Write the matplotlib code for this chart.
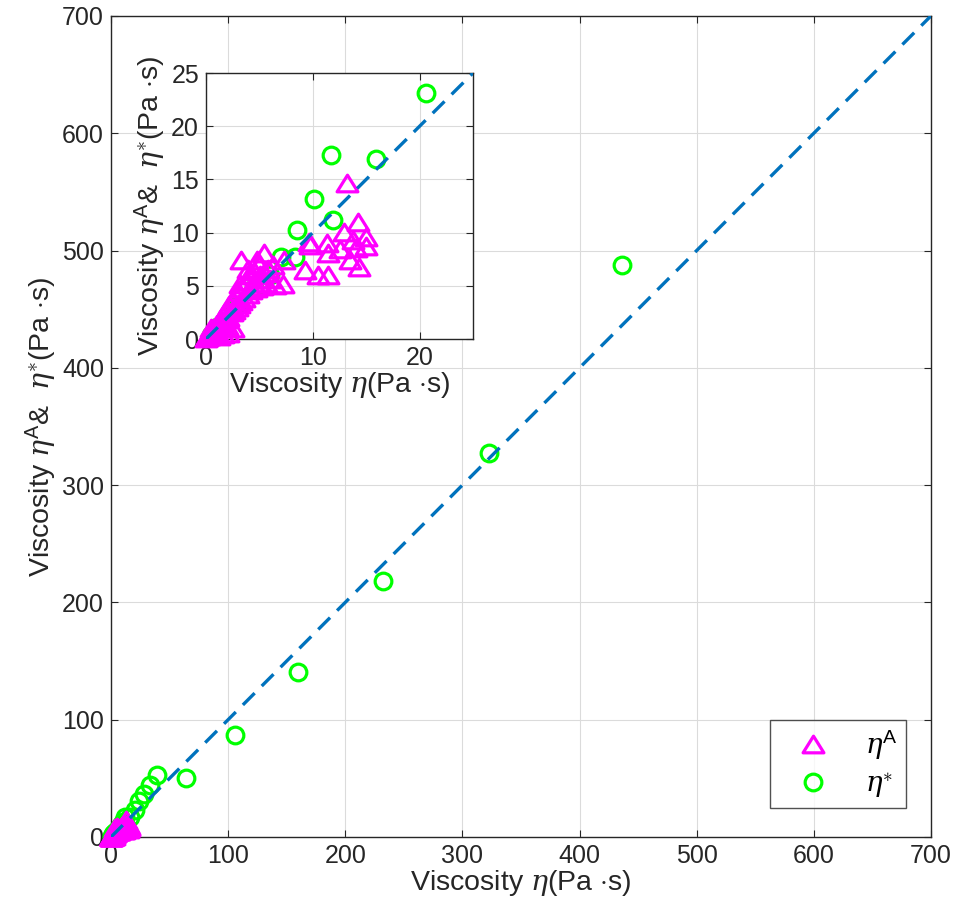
import numpy as np
import matplotlib.pyplot as plt
from matplotlib.path import Path
from matplotlib.lines import Line2D

plt.rcParams['font.family'] = ['Liberation Sans', 'DejaVu Sans']
plt.rcParams['mathtext.fontset'] = 'custom'
plt.rcParams['mathtext.rm'] = 'Liberation Sans'
plt.rcParams['mathtext.it'] = 'DejaVu Serif:italic'
plt.rcParams['mathtext.bf'] = 'Liberation Sans:bold'

# eta^A vs eta (triangles)
tri_x = [0.0, 0.1, 0.2, 0.3, 0.4, 0.5, 0.5, 0.6, 0.7, 0.8, 0.9, 1.0, 1.0, 1.1, 1.2, 1.2,
         1.3, 1.4, 1.5, 1.6, 1.6, 1.7, 1.8, 1.9, 2.0, 2.0, 2.1, 2.1, 2.2, 2.4, 2.5, 2.5,
         2.6, 2.8, 2.9, 3.0, 3.1, 3.2, 3.3, 3.3, 3.5, 3.6, 3.8, 3.9, 3.97, 4.0, 4.2,
         4.4, 4.5, 4.7, 4.75, 4.9, 5.0, 5.1, 5.2, 5.4, 5.4, 5.6, 5.8, 6.0, 6.3, 6.5,
         7.25, 7.3, 9.3, 9.6, 9.75, 10.5, 11.3, 11.45, 11.45, 12.5, 12.9, 13.2, 13.5,
         13.8, 14.0, 14.2, 14.3, 15.0, 15.0]
tri_y = [0.1, 0.2, 0.4, 0.3, 0.6, 0.5, 1.0, 0.9, 0.6, 1.1, 0.8, 1.4, 0.6, 1.0, 1.6, 0.3,
         1.2, 1.9, 1.5, 2.2, 0.5, 1.6, 2.5, 1.9, 2.8, 1.2, 2.1, 0.6, 3.2, 2.5, 3.6, 1.0,
         2.7, 4.0, 3.0, 4.5, 3.3, 5.2, 3.6, 7.4, 4.8, 3.9, 5.5, 4.2, 6.6, 6.0, 4.6,
         5.3, 6.4, 4.8, 7.4, 5.6, 7.0, 6.0, 5.0, 6.2, 8.1, 5.3, 6.6, 5.6, 7.0, 5.1,
         5.2, 7.4, 6.5, 9.1, 8.8, 6.0, 9.0, 8.05, 6.0, 8.5, 10.1, 14.7, 7.4,
         9.3, 8.6, 11.0, 6.8, 9.6, 8.7]

# eta* vs eta (circles)
circ_x = [0.5, 1.0, 2.0, 3.0, 4.5, 6.0, 7.0, 8.3, 8.5, 10.1, 11.7, 11.9, 15.9, 20.6,
          24, 28, 33, 39, 64, 106, 160, 232, 323, 436]
circ_y = [0.4, 1.1, 2.2, 3.2, 4.8, 6.0, 7.7, 7.7, 10.2, 13.2, 17.3, 11.2, 16.9, 23.1,
          31, 37, 44, 53, 50, 87, 141, 218, 327, 488]

magenta = (1, 0, 1)
green = (0, 1, 0)
blue = (0, 0.447, 0.741)
axcol = (0.15, 0.15, 0.15)

tri = Path([(-1, -0.8), (1, -0.8), (0, 0.8), (-1, -0.8)],
           [Path.MOVETO, Path.LINETO, Path.LINETO, Path.CLOSEPOLY])

xlab = r'Viscosity $\eta$(Pa $\cdot$s)'
ylab = r'Viscosity $\eta^{\mathrm{A}}$& $\;\eta^{\ast}$(Pa $\cdot$s)'


def style(ax, fs_tick, fs_lab):
    ax.grid(True, color=(0.86, 0.86, 0.86), lw=0.8)
    ax.set_axisbelow(True)
    ax.tick_params(direction='in', top=True, right=True, labelsize=fs_tick,
                   colors=axcol, length=5, width=0.8, pad=5)
    for s in ax.spines.values():
        s.set_color(axcol)
        s.set_linewidth(1.0)
    ax.set_xlabel(xlab, fontsize=fs_lab, color=axcol, labelpad=0)
    ax.set_ylabel(ylab, fontsize=fs_lab, color=axcol, labelpad=2)


def inside(xs, ys, lim):
    pts = [(x, y) for x, y in zip(xs, ys) if x <= lim * 1.02 and y <= lim * 1.02]
    return [p[0] for p in pts], [p[1] for p in pts]


def draw(ax, lim):
    cx, cy = inside(circ_x, circ_y, lim)
    tx, ty = inside(tri_x, tri_y, lim)
    ax.plot(cx, cy, 'o', ls='none', mfc='none', mec=green, ms=12, mew=2.3,
            clip_on=False, zorder=3)
    ax.plot(tx, ty, marker=tri, ls='none', mfc='none', mec=magenta, ms=15, mew=2.3,
            clip_on=False, zorder=4)
    ax.plot([0, lim], [0, lim], color=blue, lw=2.4, ls=(0, (5, 3)), zorder=5)
    ax.set_xlim(0, lim)
    ax.set_ylim(0, lim)


fig = plt.figure(figsize=(9.55, 9.22), dpi=100)
ax = fig.add_axes([0.1162, 0.0922, 0.8586, 0.8905])
draw(ax, 700)
ax.set_xticks(np.arange(0, 701, 100))
ax.set_yticks(np.arange(0, 701, 100))
style(ax, 18, 20.5)

handles = [Line2D([], [], marker=tri, ls='none', mfc='none', mec=magenta, ms=15, mew=2.3),
           Line2D([], [], marker='o', ls='none', mfc='none', mec=green, ms=12, mew=2.3)]
leg = ax.legend(handles, [r'$\eta^{\mathrm{A}}$', r'$\eta^{\ast}$'], loc='lower right',
                bbox_to_anchor=(0.9695, 0.035), fontsize=20, frameon=True, fancybox=False,
                handlelength=2.5, handletextpad=0.6, borderpad=0.3, labelspacing=0.3,
                borderaxespad=0)
leg.get_frame().set_edgecolor(axcol)
leg.get_frame().set_linewidth(1.0)

ins = fig.add_axes([0.2157, 0.6323, 0.2796, 0.2885])
draw(ins, 25)
ins.set_xticks([0, 10, 20])
ins.set_yticks(np.arange(0, 26, 5))
style(ins, 18, 20.5)

fig.savefig('out.png', dpi=100)
